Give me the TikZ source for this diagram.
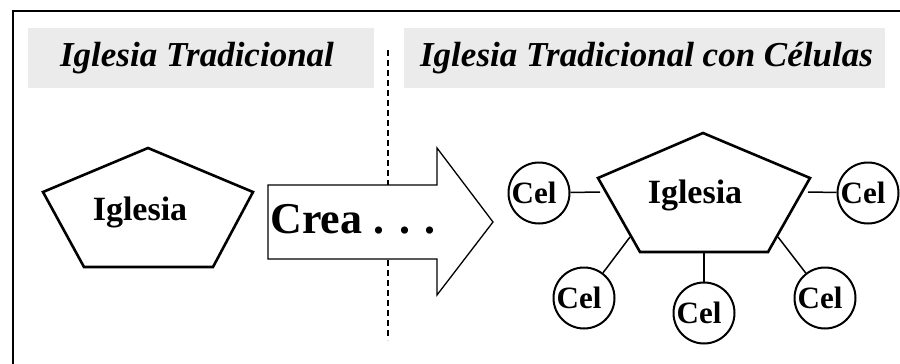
\documentclass[tikz,border=0pt]{standalone}
\usepackage{fontspec}
\setmainfont{Liberation Serif}
\begin{document}
\begin{tikzpicture}[x=1pt,y=-1pt,
  title/.style={fill=black!8,minimum width=#1,minimum height=60pt,inner sep=0pt,font=\fontsize{35}{40}\selectfont\bfseries\itshape},
  church/.style={draw,line width=2.6pt,line join=miter},
  lbl/.style={font=\fontsize{34}{38}\selectfont\bfseries,inner sep=0pt},
  cel/.style={draw,circle,line width=2pt,minimum size=61pt,inner sep=0pt,font=\fontsize{31}{34}\selectfont\bfseries},
  link/.style={line width=1.5pt}]
\useasboundingbox (0,0) rectangle (900,364);
% frame
\draw[line width=2pt] (13,370) -- (13,11) -- (906,11);
% titles
\node[title=346pt] (t1) at (201,58) {\hspace*{-8pt}Iglesia Tradicional};
\node[title=481pt] (t2) at (644.5,58) {\hspace*{4pt}Iglesia Tradicional con Células};
% divider
\coordinate (d1) at (388,50);
\coordinate (d2) at (388,340);
\draw[line width=1.4pt,dash pattern=on 6pt off 4pt] (d1) -- (d2);
% left church
\coordinate (a1) at (148,148);
\coordinate (a2) at (253,192);
\coordinate (a3) at (213,267);
\coordinate (a4) at (84,267);
\coordinate (a5) at (43,192);
\draw[church,fill=white] (a1) -- (a2) -- (a3) -- (a4) -- (a5) -- cycle;
\node[lbl] (ig1) at (140,212) {Iglesia};
% arrow
\draw[line width=1.3pt,fill=white] (268,185) -- (437,185) -- (437,148) -- (493,222) -- (437,295) -- (437,259) -- (268,259) -- cycle;
\node[font=\fontsize{44}{48}\selectfont\bfseries,inner sep=0pt] (crea) at (353,219) {Crea . . .};
% right church
\coordinate (b1) at (703,133);
\coordinate (b2) at (810,178);
\coordinate (b3) at (768,252);
\coordinate (b4) at (640,252);
\coordinate (b5) at (598,178);
\draw[church] (b1) -- (b2) -- (b3) -- (b4) -- (b5) -- cycle;
\node[lbl] (ig2) at (695,195) {Iglesia};
% cells
\node[cel] (c1) at (539,193) {\hspace*{-10pt}Cel};
\node[cel] (c2) at (868,193) {\hspace*{-10pt}Cel};
\node[cel] (c3) at (584,298) {\hspace*{-10pt}Cel};
\node[cel] (c4) at (704,313) {\hspace*{-10pt}Cel};
\node[cel] (c5) at (825,298) {\hspace*{-10pt}Cel};
\coordinate (p1) at (600,192);
\coordinate (p2) at (808,192);
\coordinate (p3) at (630,237);
\coordinate (p4) at (704,252);
\coordinate (p5) at (778,237);
\draw[link] (c1) -- (p1);
\draw[link] (c2) -- (p2);
\draw[link] (c3) -- (p3);
\draw[link] (c4) -- (p4);
\draw[link] (c5) -- (p5);
\end{tikzpicture}
\end{document}
